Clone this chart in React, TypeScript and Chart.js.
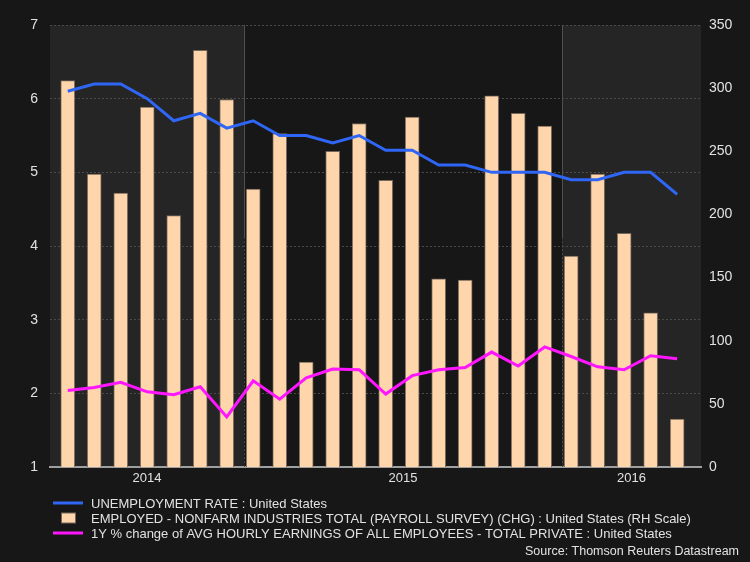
import React, { useEffect, useRef } from 'react';
import { Chart, registerables } from 'chart.js';

Chart.register(...registerables);

// ---- DATA ----
const months = [
  'Jun 2014', 'Jul 2014', 'Aug 2014', 'Sep 2014', 'Oct 2014', 'Nov 2014', 'Dec 2014',
  'Jan 2015', 'Feb 2015', 'Mar 2015', 'Apr 2015', 'May 2015', 'Jun 2015', 'Jul 2015',
  'Aug 2015', 'Sep 2015', 'Oct 2015', 'Nov 2015', 'Dec 2015',
  'Jan 2016', 'Feb 2016', 'Mar 2016', 'Apr 2016', 'May 2016',
];
const unemploymentRate = [6.1, 6.2, 6.2, 6.0, 5.7, 5.8, 5.6, 5.7, 5.5, 5.5, 5.4, 5.5, 5.3, 5.3, 5.1, 5.1, 5.0, 5.0, 5.0, 4.9, 4.9, 5.0, 5.0, 4.7];
const payrollChange = [306, 232, 217, 285, 199, 330, 291, 220, 264, 83, 250, 272, 227, 277, 149, 148, 294, 280, 270, 167, 232, 185, 122, 38];
const earningsGrowth = [2.04, 2.08, 2.15, 2.02, 1.98, 2.09, 1.68, 2.17, 1.92, 2.21, 2.33, 2.32, 1.99, 2.24, 2.32, 2.35, 2.56, 2.37, 2.63, 2.5, 2.36, 2.32, 2.51, 2.47];
const leftTicks = [1, 2, 3, 4, 5, 6, 7];
const rightTicks = [0, 50, 100, 150, 200, 250, 300, 350];
const seriesNames = [
  'UNEMPLOYMENT RATE : United States',
  'EMPLOYED - NONFARM INDUSTRIES TOTAL (PAYROLL SURVEY) (CHG) : United States (RH Scale)',
  '1Y % change of AVG HOURLY EARNINGS OF ALL EMPLOYEES - TOTAL PRIVATE : United States',
];
const sourceText = 'Source: Thomson Reuters Datastream';

// ---- derived ----
const X_MIN = -0.67;
const X_MAX = 23.9;
const YEAR_SHIFT = 0.35;
const janIdx = months.map((m, i) => (m.startsWith('Jan') ? i : -1)).filter((i) => i >= 0);
const bandEdges = [X_MIN, ...janIdx.map((i) => i - YEAR_SHIFT), X_MAX];
const years = [months[0].slice(-4), ...janIdx.map((i) => months[i].slice(-4))];
const bands = years.map((y, i) => ({ label: y, start: bandEdges[i], end: bandEdges[i + 1] }));

const COLORS = {
  bg: '#171717',
  band: '#252525',
  text: '#e2e2e2',
  grid: '#4a4a4a',
  blue: '#2f66f5',
  bar: '#ffd5ab',
  barBorder: '#76665a',
  pink: '#ff16ff',
};
const FONT = "'Liberation Sans', Arial, sans-serif";

const decorPlugin = {
  id: 'decor',
  beforeDraw(chart: any) {
    const { ctx, chartArea: a, scales } = chart;
    const x = scales.x;
    ctx.save();
    ctx.fillStyle = COLORS.bg;
    ctx.fillRect(0, 0, chart.width, chart.height);
    bands.forEach((b, i) => {
      if (i % 2 === 0) {
        const l = x.getPixelForValue(b.start);
        const r = x.getPixelForValue(b.end);
        ctx.fillStyle = COLORS.band;
        ctx.fillRect(l, a.top, r - l, a.bottom - a.top);
      }
    });
    ctx.restore();
  },
  beforeDatasetsDraw(chart: any) {
    const { ctx, chartArea: a, scales } = chart;
    const x = scales.x;
    ctx.save();
    ctx.lineWidth = 1;
    bands.slice(1).forEach((b) => {
      const px = Math.round(x.getPixelForValue(b.start)) + 0.5;
      const mid = a.top + (a.bottom - a.top) * 0.48;
      ctx.strokeStyle = '#505050';
      ctx.setLineDash([]);
      ctx.beginPath();
      ctx.moveTo(px, a.top);
      ctx.lineTo(px, mid);
      ctx.stroke();
      ctx.setLineDash([2, 2]);
      ctx.strokeStyle = '#4a4a4a';
      ctx.beginPath();
      ctx.moveTo(px, mid);
      ctx.lineTo(px, a.bottom);
      ctx.stroke();
    });
    ctx.restore();
  },
  afterDraw(chart: any) {
    const { ctx } = chart;
    ctx.save();
    ctx.font = `13px ${FONT}`;
    ctx.fillStyle = COLORS.text;
    ctx.textBaseline = 'middle';
    ctx.textAlign = 'left';
    const rows = [503, 518, 533];
    // row 1: blue line
    ctx.strokeStyle = COLORS.blue;
    ctx.lineWidth = 3;
    ctx.beginPath();
    ctx.moveTo(53, rows[0]);
    ctx.lineTo(83, rows[0]);
    ctx.stroke();
    // row 2: bar square
    ctx.fillStyle = COLORS.bar;
    ctx.fillRect(61.5, rows[1] - 5, 14, 10);
    ctx.strokeStyle = COLORS.barBorder;
    ctx.lineWidth = 1;
    ctx.strokeRect(61.5, rows[1] - 5, 14, 10);
    // row 3: pink line
    ctx.strokeStyle = COLORS.pink;
    ctx.lineWidth = 3;
    ctx.beginPath();
    ctx.moveTo(53, rows[2]);
    ctx.lineTo(83, rows[2]);
    ctx.stroke();
    ctx.fillStyle = COLORS.text;
    seriesNames.forEach((s, i) => ctx.fillText(s, 91, rows[i] + 1));
    ctx.font = `12.5px ${FONT}`;
    ctx.textAlign = 'right';
    ctx.fillText(sourceText, 739, 552);
    ctx.restore();
  },
};

export default function App() {
  const ref = useRef<HTMLCanvasElement>(null);

  useEffect(() => {
    if (!ref.current) return;
    const xy = (arr: number[]) => arr.map((v, i) => ({ x: i, y: v }));
    const chart = new Chart(ref.current, {
      type: 'bar',
      data: {
        datasets: [
          {
            type: 'line',
            label: seriesNames[0],
            data: xy(unemploymentRate),
            yAxisID: 'yL',
            borderColor: COLORS.blue,
            borderWidth: 3,
            pointRadius: 0,
            tension: 0,
            order: 1,
          } as any,
          {
            type: 'bar',
            label: seriesNames[1],
            data: xy(payrollChange),
            yAxisID: 'yR',
            backgroundColor: COLORS.bar,
            borderColor: COLORS.barBorder,
            borderWidth: { top: 1, left: 1, right: 1, bottom: 0 },
            barThickness: 14,
            order: 3,
          } as any,
          {
            type: 'line',
            label: seriesNames[2],
            data: xy(earningsGrowth),
            yAxisID: 'yL',
            borderColor: COLORS.pink,
            borderWidth: 3,
            pointRadius: 0,
            tension: 0,
            order: 2,
          } as any,
        ],
      },
      options: {
        responsive: false,
        animation: false,
        maintainAspectRatio: false,
        layout: { padding: { top: 25, left: 0, right: 0, bottom: 0 } },
        plugins: { legend: { display: false }, tooltip: { enabled: false } },
        scales: {
          x: {
            type: 'linear',
            min: X_MIN,
            max: X_MAX,
            offset: false,
            grid: { display: false, drawTicks: false },
            border: { display: true, color: '#a0a0a0', width: 2 },
            afterBuildTicks: (scale: any) => {
              scale.ticks = bands.map((b) => ({ value: (b.start + b.end) / 2 }));
            },
            afterFit: (scale: any) => {
              scale.height = 95;
            },
            ticks: {
              color: COLORS.text,
              font: { family: FONT, size: 13 },
              padding: 4,
              maxRotation: 0,
              autoSkip: false,
              callback: (v: any) => {
                const b = bands.find((bb) => Math.abs((bb.start + bb.end) / 2 - Number(v)) < 1e-6);
                return b ? b.label : '';
              },
            },
          } as any,
          yL: {
            type: 'linear',
            position: 'left',
            min: leftTicks[0],
            max: leftTicks[leftTicks.length - 1],
            afterBuildTicks: (scale: any) => {
              scale.ticks = leftTicks.map((v) => ({ value: v }));
            },
            afterFit: (scale: any) => {
              scale.width = 50;
            },
            grid: { color: COLORS.grid, lineWidth: 1, drawTicks: false },
            border: { display: false, dash: [2, 2] },
            ticks: {
              color: COLORS.text,
              font: { family: FONT, size: 14 },
              padding: 12,
            },
          } as any,
          yR: {
            type: 'linear',
            position: 'right',
            min: rightTicks[0],
            max: rightTicks[rightTicks.length - 1],
            afterBuildTicks: (scale: any) => {
              scale.ticks = rightTicks.map((v) => ({ value: v }));
            },
            afterFit: (scale: any) => {
              scale.width = 49;
            },
            grid: { display: false, drawTicks: false },
            border: { display: false },
            ticks: {
              color: COLORS.text,
              font: { family: FONT, size: 14 },
              padding: 8,
            },
          } as any,
        },
      },
      plugins: [decorPlugin],
    });
    return () => chart.destroy();
  }, []);

  return (
    <div style={{ position: 'fixed', left: 0, top: 0, width: 750, height: 562, background: COLORS.bg }}>
      <canvas ref={ref} width={750} height={562} style={{ width: 750, height: 562 }} />
    </div>
  );
}
